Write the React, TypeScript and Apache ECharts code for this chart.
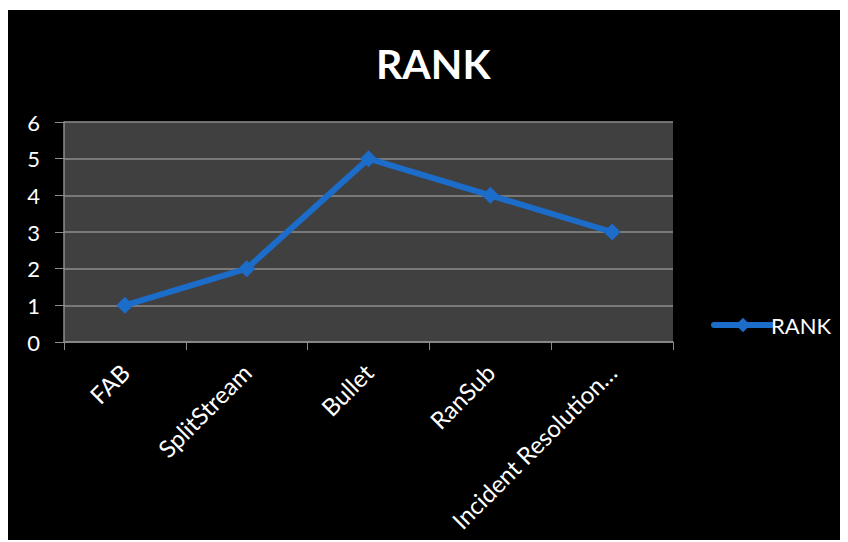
import React, { useEffect, useRef } from "react";
import * as echarts from "echarts";

const categories = ["FAB", "SplitStream", "Bullet", "RanSub", "Incident Resolution…"];
const rankValues = [1, 2, 5, 4, 3];
const seriesName = "RANK";
const titleText = "RANK";

export default function App() {
  const ref = useRef<HTMLDivElement>(null);
  useEffect(() => {
    if (!ref.current) return;
    const chart = echarts.init(ref.current, undefined, { renderer: "svg" });
    const font = "Lato, 'Open Sans', sans-serif";
    chart.setOption({
      animation: false,
      backgroundColor: "#000000",
      title: {
        text: titleText,
        left: 363,
        top: 28,
        textStyle: { color: "#ffffff", fontSize: 41, fontWeight: "bold", fontFamily: font },
      },
      legend: {
        data: [seriesName],
        left: 698,
        top: 299,
        itemWidth: 58,
        itemHeight: 18,
        itemGap: 4,
        lineStyle: { width: 6, cap: "round" },
        textStyle: { color: "#ffffff", fontSize: 22, fontFamily: font, padding: [0, 0, 0, -6] },
      },
      grid: { left: 56, top: 112, right: 175, bottom: 200, backgroundColor: "#404040", show: true, borderWidth: 0 },
      xAxis: {
        type: "category",
        data: categories,
        boundaryGap: true,
        axisLine: { show: true, lineStyle: { color: "#8c8c8c", width: 1.5 } },
        axisTick: { show: true, length: 8, lineStyle: { color: "#8c8c8c" } },
        axisLabel: {
          rotate: 45,
          color: "#ffffff",
          fontSize: 24,
          fontFamily: font,
          margin: 26,
          interval: 0,
        },
        splitLine: { show: false },
      },
      yAxis: {
        type: "value",
        min: 0,
        max: 6,
        interval: 1,
        axisLine: { show: true, lineStyle: { color: "#8c8c8c", width: 1.5 } },
        axisTick: { show: true, length: 9, lineStyle: { color: "#8c8c8c" } },
        axisLabel: { color: "#ffffff", fontSize: 22, fontFamily: font, margin: 24 },
        splitLine: { show: true, lineStyle: { color: "#8c8c8c", width: 1.5 } },
      },
      series: [
        {
          name: seriesName,
          type: "line",
          data: rankValues,
          symbol: "diamond",
          symbolSize: 17,
          lineStyle: { color: "#1c6cc9", width: 6, cap: "round" },
          itemStyle: { color: "#1c6cc9" },
        },
      ],
    });
    return () => chart.dispose();
  }, []);
  return <div ref={ref} style={{ width: 840, height: 532, position: "relative", top: 2 }} />;
}
